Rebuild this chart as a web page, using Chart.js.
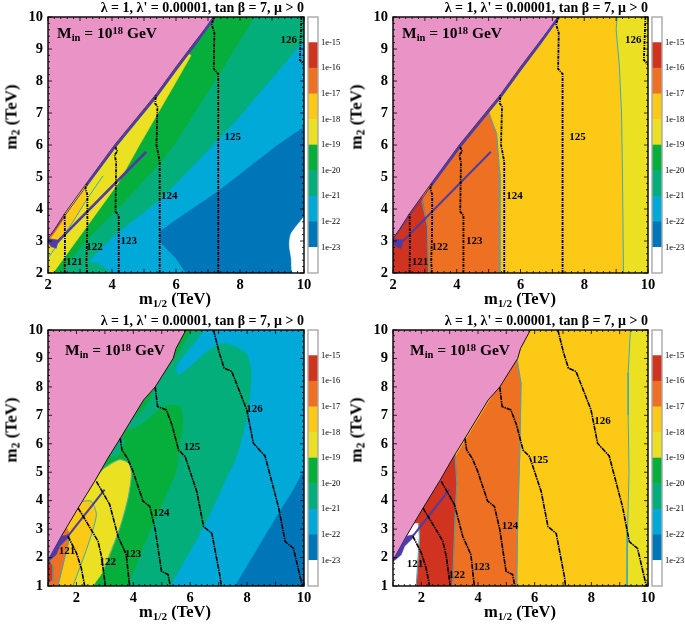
<!DOCTYPE html>
<html><head><meta charset="utf-8">
<script src="https://cdn.jsdelivr.net/npm/chart.js@4"></script>
<style>
html,body{margin:0;padding:0;background:#fff;width:685px;height:624px;overflow:hidden}
canvas{position:absolute;display:block;filter:blur(0.3px)}
.t{position:absolute;font-family:"Liberation Serif",serif;font-weight:bold;color:#000;white-space:nowrap;line-height:1}
.t sub,.t sup{font-size:68%;line-height:0}
.t sub{vertical-align:-0.28em}.t sup{vertical-align:0.42em}
.xl{font-size:16.5px}.yl{font-size:17px;transform:translate(-50%,-50%) rotate(-90deg)}
.mi{font-size:15.5px}
</style></head><body>
<script>
const titleText = "λ = 1, λ' = 0.00001, tan β = 7, μ > 0";
const xTicksHigh = [2,4,6,8,10];
const yTicksHigh = [2,3,4,5,6,7,8,9,10];
const yTicksLow = [1,2,3,4,5,6,7,8,9,10];
const barLevels = [-15,-16,-17,-18,-19,-20,-21,-22,-23];
const barBands = [[-24,-23],[-23,-22],[-22,-21],[-21,-20],[-20,-19],[-19,-18],[-18,-17],[-17,-16],[-16,-15],[-15,-14]];
const contourNames = ['121','122','123','124','125','126'];

const PINK='#E993C6',RED='#D0331F',ORANGE='#EE7023',AMBER='#FCC916',YELLOW='#EBE122',GREEN='#06AF3C',TEAL='#03AE7B',CYAN='#00A9D8',BLUE='#0076B9',WHITE='#FFFFFF',PURPLE='#4F3BA6',EDGE='#3FA9B5';
const barColors=[WHITE,BLUE,CYAN,TEAL,GREEN,YELLOW,AMBER,ORANGE,RED,WHITE];

// upper panels: m1/2 2..10, m2 2..10
const edgeA = [[2,3.08],[2.2,3.36],[2.52,3.86],[3.2,4.8],[4.08,6],[5.39,7.6],[6,8.44],[6.63,9.27],[7.2,10]];
const pinkA = edgeA.concat([[2,10]]);
const fullA = [[2,2],[10,2],[10,10],[2,10]];
const a1Blue = [[5.5,3.3],[6,3.66],[7.3,4.54],[9.18,6],[10,6.56],[10,2],[6.31,2],[6,2.46],[5.5,2.97]];
const a1White = [[10,3.76],[9.6,3.24],[9.54,2.88],[9.6,2.46],[9.65,2],[10,2]];
const a1Teal = [[2,2],[3.98,2],[3.56,2.3],[3.25,2.35],[4.08,3.19],[5.54,4.33],[6,4.8],[7.15,6],[7.88,6.77],[10,9.27],[10,10],[2,10]];
const a1Green = [[2,2],[2.36,2],[3.15,2.98],[4.19,4.02],[5.54,5.48],[6,6.1],[7.35,8.23],[8.45,10],[2,10]];
const a1Yellow = [[2,2],[2.16,2],[3.25,3.5],[4.19,4.8],[4.86,6],[6,7.97],[6.47,8.8],[6.3,8.9],[2,10]];
const a1Amber = [[2,2.67],[2.78,3.6],[3.15,4.23],[3.2,4.7],[2.52,3.84],[2.2,3.29],[2,3]];
const a1Orange = [[2,3],[2.2,3.25],[2.5,3.7],[2.52,3.86],[2.2,3.36],[2,3.08]];
const a1Edge = [[2,2.46],[2.78,3.6],[3.2,4.28],[3.72,5.04]];
const a2Yellow = [[9.03,10],[9,9.6],[9.1,8.5],[9.17,7],[9.2,5],[9.23,2],[10,2],[10,10]];
const a2Edge = [[9.03,10],[9,9.6],[9.1,8.5],[9.17,7],[9.2,5],[9.23,2]];
const a2Orange = [[4.99,7.1],[5.25,6.36],[5.35,5.11],[5.35,2],[2,2],[2,3.2],[4,6]];
const a2OrangeEdge = [[4.95,7.05],[5.25,6.36],[5.35,5.11],[5.35,2]];
const a2Red = [[2.9,4.4],[3.08,3.44],[3.11,2],[2,2],[2,3.2]];
const a2RedEdge = [[2.9,4.3],[3.08,3.44],[3.11,2]];
const aPurpleThin = [[2.1,3.18],[2.52,3.78],[3.2,4.72]];
const aPurpleEdge = [[3.2,4.74],[4.08,5.93],[5.39,7.53],[6,8.37],[6.63,9.2],[7.2,10]];
const aPurpleLine = [[2.2,2.88],[5.07,5.79]];
const aPurpleBlob = [[2,3.08],[2.31,3.03],[2.26,2.77],[2.1,2.82],[2,2.96]];
const aContour1 = [[2.52,2],[2.53,3],[2.52,3.86]];
const aContour2 = [[3.22,2],[3.2,2.35],[3.23,3.5],[3.23,4.44],[3.17,4.65],[3.23,4.8]];
const aContour3 = [[4.21,2],[4.21,3.8],[4.11,3.92],[4.13,5.48],[4.08,5.69],[4.17,5.8],[4.1,5.95]];
const aContour4 = [[5.49,2],[5.49,5.48],[5.39,6],[5.42,7.2],[5.35,7.3],[5.37,7.55]];
const aContour5 = [[7.32,2],[7.32,8.22],[7.18,8.38],[7.2,9.5],[7.12,9.76],[7.17,9.96]];
const aContour6 = [[9.92,10],[9.87,8.66],[10,8.5]];
const a1LabelX = [2.82,3.45,4.52,5.79,7.77,9.52];
const a1LabelY = [2.34,2.81,3.0,4.41,6.24,9.27];
const a2LabelX = [2.85,3.47,4.55,5.81,7.79,9.54];
const a2LabelY = [2.34,2.81,3.0,4.41,6.24,9.27];

// lower panels: m1/2 1..10, m2 1..10
const edgeB = [[1,1.87],[1.47,2.75],[2.06,3.74],[2.64,4.68],[3.11,5.5],[3.54,6.19],[4.36,7.54],[4.77,8.0],[5.4,9.0],[5.5,9.35],[5.85,10]];
const pinkB = edgeB.concat([[1,10]]);
const fullB = [[1,1],[10,1],[10,10],[1,10]];
const b3Blue = [[7.58,1],[8.34,2.27],[9.04,3.44],[9.63,4.38],[10,5.08],[10,1]];
const b3Teal = [[5.3,1],[6.59,3.32],[7.29,4.84],[7.61,5.5],[8.02,7.07],[8.14,8.53],[7.96,9.18],[7.2,9.53],[6.67,9.3],[5.62,8.42],[5.5,8.71],[6.32,9.77],[6.44,10],[1,10],[1,1]];
const b3Green = [[3.81,1],[4.52,2.8],[5.5,5.03],[5.62,6],[5.73,6.6],[5.68,7.25],[5.5,7.36],[5.06,7.3],[4.18,6.6],[3.6,6.4],[1,3],[1,1]];
const b3GreenUp = [[4.3,7.5],[5.4,9.0],[5.5,9.35],[5.85,10],[6.03,10],[5.5,9.05],[5.1,8.5],[4.75,7.95],[4.55,7.5],[4.07,6.9]];
const b3Sliver = [[3.2,5.6],[3.54,6.19],[3.72,6.1],[3.4,5.5]];
const b3Yellow = [[2.58,1],[2.93,1.52],[3.52,3.04],[3.81,4.09],[3.93,4.92],[3.85,5.3],[3.52,5.44],[2.99,5.15],[2.64,4.68],[1,1.9],[1,1]];
const b3Amber = [[1.88,1],[2.41,2.45],[2.7,3.5],[2.52,3.98],[2.23,3.98],[1.6,3.2],[1,1.9],[1,1]];
const b3Orange = [[1.35,1],[1.7,2.45],[1.76,2.8],[1.6,3.2],[1,1.9],[1,1]];
const b3Red = [[1,1.08],[1.15,1.2],[1.17,1.7],[1.05,1.92],[1,1.9]];
const b3Edge1 = [[1.88,1],[2.41,2.45],[2.7,3.5],[2.52,3.98],[2.23,3.98]];
const b3Edge2 = [[1.35,1],[1.7,2.45],[1.76,2.8]];
const b3Edge3 = [[1,1.08],[1.15,1.2],[1.17,1.7],[1.05,1.92]];
const b3Edge4 = [[2.93,1.52],[3.52,3.04],[3.81,4.09],[3.93,4.92],[3.85,5.3],[3.52,5.44],[2.99,5.15]];
const b4Yellow = [[9.38,10],[9.3,8.5],[9.3,7],[9.33,5],[9.28,3],[9.26,1],[10,1],[10,10]];
const b4YellowEdge = [[9.38,10],[9.3,8.5],[9.3,7],[9.33,5],[9.28,3],[9.26,1]];
const b4Orange = [[5.37,9.1],[5.52,8.13],[5.48,5.78],[5.4,3.2],[5.37,1],[1,1],[1,1.91]];
const b4OrangeEdge = [[5.37,8.95],[5.52,8.13],[5.48,5.78],[5.4,3.2],[5.37,1]];
const b4Red = [[3.19,5.7],[3.25,4.61],[3.19,3.44],[3.1,1],[1,1],[1,1.91]];
const b4RedEdge = [[3.19,5.6],[3.25,4.61],[3.19,3.44],[3.1,1]];
const b4White = [[1,1.87],[1.47,2.75],[1.73,3.2],[1.9,3.2],[1.93,2.73],[1.82,1],[1,1]];
const b4WhiteEdge = [[1.9,3.2],[1.93,2.73],[1.82,1]];
const bPurpleBlob = [[1,1.93],[1.47,2.75],[1.7,2.8],[1.7,2.69],[1.41,2.4],[1.29,2.1],[1.06,1.9]];
const bPurpleLine = [[1.7,2.75],[2.99,4.39]];
const bContour1 = [[1.7,2.75],[2,2.16],[2.17,1.63],[2.29,1]];
const bContour2 = [[2.06,3.74],[2.41,3.16],[2.76,2.57],[2.88,2.04],[3.02,1]];
const bContour3 = [[2.7,4.68],[3.17,3.86],[3.46,2.75],[3.75,2.1],[3.87,1]];
const bContour4 = [[3.54,6.19],[3.6,5.78],[3.79,5.5],[3.99,5.03],[4.34,3.98],[4.58,3.8],[4.77,2.98],[4.99,1.52],[5.22,1.4],[5.3,1]];
const bContour5 = [[4.77,7.99],[4.85,7.31],[5.16,7.19],[5.36,6.66],[5.59,5.78],[5.82,5.55],[6.23,4.32],[6.47,3.09],[6.76,2.85],[7.05,1.33],[7.09,1]];
const bContour6 = [[6.82,10],[7.02,9.2],[7.19,8.66],[7.46,8.54],[7.99,7.19],[8.22,6.02],[8.63,5.57],[9.1,3.79],[9.34,2.56],[9.63,2.32],[9.92,1.09],[9.96,1]];
const b3LabelX = [1.67,3.1,3.99,4.98,6.06,8.26];
const b3LabelY = [2.24,1.83,2.13,3.56,5.89,7.22];
const b4LabelX = [1.78,3.25,4.13,5.13,6.19,8.39];
const b4LabelY = [1.77,1.39,1.67,3.11,5.43,6.78];

const pts = a => a.map(([x,y]) => ({x,y}));
const area = (a,c,t) => ({type:'line',data:pts(a.concat([a[0]])),backgroundColor:c,borderColor:c,borderWidth:0.5,fill:'shape',pointRadius:0,tension:t||0});
const stroke = (a,c,w,dash,t) => ({type:'line',data:pts(a),borderColor:c,borderWidth:w,borderDash:dash||[],fill:false,pointRadius:0,tension:t||0});
const contoursUpper = l => l.map(a => stroke(a,'#000',1.8,[3,1,1,1]));
const contoursLower = l => l.map(a => stroke(a,'#000',1.6,[5,0.8,1.5,0.8]));
const SOFT=0.25;

const contA=[aContour1,aContour2,aContour3,aContour4,aContour5,aContour6];
const contB=[bContour1,bContour2,bContour3,bContour4,bContour5,bContour6];

const panels = [
 {left:0,top:0,w:304,xmin:2,ymin:2,xt:xTicksHigh,yt:yTicksHigh,lx:a1LabelX,ly:a1LabelY,layers:[
  area(fullA,CYAN),area(a1Blue,BLUE),area(a1White,WHITE,SOFT),area(a1Teal,TEAL),area(a1Green,GREEN),area(a1Yellow,YELLOW),area(a1Amber,AMBER),area(a1Orange,ORANGE),
  stroke(a1Edge,EDGE,1),area(pinkA,PINK),stroke(edgeA,'#000',0.7),
  stroke(aPurpleThin,PURPLE,1),stroke(aPurpleEdge,PURPLE,2.6),stroke(aPurpleLine,PURPLE,2.6),area(aPurpleBlob,PURPLE),...contoursUpper(contA)]},
 {left:345,top:0,w:303,xmin:2,ymin:2,xt:xTicksHigh,yt:yTicksHigh,lx:a2LabelX,ly:a2LabelY,layers:[
  area(fullA,AMBER),area(a2Yellow,YELLOW),stroke(a2Edge,EDGE,1),area(a2Orange,ORANGE),stroke(a2OrangeEdge,EDGE,1),area(a2Red,RED),stroke(a2RedEdge,EDGE,1),
  area(pinkA,PINK),stroke(edgeA,'#000',0.7),
  stroke(aPurpleThin,PURPLE,1),stroke(aPurpleEdge,PURPLE,2.6),stroke(aPurpleLine,PURPLE,2),area(aPurpleBlob,PURPLE),...contoursUpper(contA)]},
 {left:0,top:313,w:304,xmin:1,ymin:1,xt:xTicksHigh,yt:yTicksLow,lx:b3LabelX,ly:b3LabelY,layers:[
  area(fullB,CYAN),area(b3Blue,BLUE),area(b3Teal,TEAL,SOFT),area(b3Green,GREEN,SOFT),area(b3GreenUp,GREEN),area(b3Sliver,TEAL),area(b3Yellow,YELLOW,SOFT),area(b3Amber,AMBER,SOFT),area(b3Orange,ORANGE),area(b3Red,RED),
  stroke(b3Edge1,EDGE,1,[],SOFT),stroke(b3Edge2,EDGE,1),stroke(b3Edge3,EDGE,1),stroke(b3Edge4,EDGE,0.8,[],SOFT),area(pinkB,PINK),stroke(edgeB,'#000',0.9),
  area(bPurpleBlob,PURPLE),stroke(bPurpleLine,PURPLE,2),...contoursLower(contB)]},
 {left:345,top:313,w:303,xmin:1,ymin:1,xt:xTicksHigh,yt:yTicksLow,lx:b4LabelX,ly:b4LabelY,layers:[
  area(fullB,AMBER),area(b4Yellow,YELLOW),stroke(b4YellowEdge,EDGE,1),area(b4Orange,ORANGE),stroke(b4OrangeEdge,EDGE,1),area(b4Red,RED),stroke(b4RedEdge,EDGE,1),area(b4White,WHITE),stroke(b4WhiteEdge,EDGE,1),
  area(pinkB,PINK),stroke(edgeB,'#000',0.9),
  area(bPurpleBlob,PURPLE),stroke(bPurpleLine,PURPLE,2),...contoursLower(contB)]}
];

const frame = {id:'frame',afterDatasetsDraw(c){
  const {ctx,chartArea:a,scales:{x,y}}=c;const p=c.options.plugins.frame;
  ctx.save();
  ctx.font='bold 11px "Liberation Serif"';ctx.fillStyle='#000';ctx.textAlign='center';ctx.textBaseline='middle';
  p.names.forEach((n,i)=>ctx.fillText(n,x.getPixelForValue(p.lx[i]),y.getPixelForValue(p.ly[i])));
  ctx.strokeStyle='#000';ctx.lineWidth=0.8;ctx.beginPath();
  for(let v=p.xmin;v<=10.001;v+=0.2){const X=x.getPixelForValue(v);const m=Math.abs(v-Math.round(v))<1e-6;const L=m?4:2;
    ctx.moveTo(X,a.bottom);ctx.lineTo(X,a.bottom-L);ctx.moveTo(X,a.top);ctx.lineTo(X,a.top+L);}
  for(let v=p.ymin;v<=10.001;v+=0.2){const Y=y.getPixelForValue(v);const m=Math.abs(v-Math.round(v))<1e-6;const L=m?4:2;
    ctx.moveTo(a.left,Y);ctx.lineTo(a.left+L,Y);ctx.moveTo(a.right,Y);ctx.lineTo(a.right-L,Y);}
  ctx.stroke();
  ctx.lineWidth=1.4;ctx.strokeRect(a.left,a.top,a.right-a.left,a.bottom-a.top);
  ctx.restore();
}};

function addCanvas(l,t,w,h){const c=document.createElement('canvas');c.width=w;c.height=h;c.style.cssText=`left:${l}px;top:${t}px;width:${w}px;height:${h}px`;document.body.appendChild(c);return c;}
function addText(cls,l,t,html){const d=document.createElement('div');d.className='t '+cls;d.style.left=l+'px';d.style.top=t+'px';d.innerHTML=html;document.body.appendChild(d);}

const tickFont={family:'"Liberation Serif"',size:14.5,weight:'bold'};
panels.forEach((p,i)=>{
  const cv=addCanvas(p.left,p.top,320,310);
  new Chart(cv,{type:'line',plugins:[frame],data:{datasets:p.layers.slice().reverse()},options:{
    responsive:false,animation:false,events:[],
    layout:{padding:{left:0,right:320-p.w,top:0,bottom:0}},
    plugins:{legend:{display:false},tooltip:{enabled:false},
      title:{display:true,text:titleText,align:'end',fullSize:false,color:'#000',font:{family:'"Liberation Serif"',size:14,weight:'bold',lineHeight:1},padding:{top:1,bottom:2}},
      frame:{names:contourNames,lx:p.lx,ly:p.ly,xmin:p.xmin,ymin:p.ymin}},
    scales:{
      x:{type:'linear',min:p.xmin,max:10,grid:{display:false,drawTicks:false},border:{display:false},
        afterBuildTicks:s=>{s.ticks=p.xt.map(v=>({value:v}));},
        afterFit:s=>{s.height=37;},
        ticks:{font:tickFont,color:'#000',padding:4,maxRotation:0,autoSkip:false}},
      y:{type:'linear',min:p.ymin,max:10,grid:{display:false,drawTicks:false},border:{display:false},
        afterBuildTicks:s=>{s.ticks=p.yt.map(v=>({value:v}));},
        afterFit:s=>{s.width=48;},
        ticks:{font:tickFont,color:'#000',padding:5,autoSkip:false}}
    }}});
  const cb=addCanvas(p.left+(p.w===304?304:303),p.top,41,310);
  new Chart(cb,{type:'bar',plugins:[{id:'barBox',afterDatasetsDraw(c){const {ctx,chartArea:a}=c;ctx.save();ctx.strokeStyle='#a8a8a8';ctx.lineWidth=1.4;ctx.strokeRect(a.left,a.top,a.right-a.left,a.bottom-a.top);ctx.restore();}}],
    data:{labels:['level'],datasets:barBands.map((b,j)=>({data:[b],backgroundColor:barColors[j],borderWidth:0,barPercentage:1,categoryPercentage:1}))},
    options:{responsive:false,animation:false,events:[],
      layout:{padding:{left:4,right:0,top:17,bottom:37}},
      plugins:{legend:{display:false},tooltip:{enabled:false}},
      scales:{
        x:{display:false,stacked:false},
        y:{type:'linear',position:'right',min:-24,max:-14,grid:{display:false,drawTicks:false},border:{display:false},
          afterBuildTicks:s=>{s.ticks=barLevels.map(v=>({value:v}));},
          afterFit:s=>{s.width=27;},
          ticks:{font:{family:'"Liberation Serif"',size:8.5},color:'#000',padding:3,autoSkip:false,callback:v=>'1e'+v}}
      },
      datasets:{bar:{grouped:false}}
    }});
  addText('xl',p.left+139,p.top+291,'m<sub>1/2</sub> (TeV)');
  addText('yl',p.left+11,p.top+117,'m<sub>2</sub> (TeV)');
  if(i<2) addText('mi',p.left+57,p.top+25,'M<sub>in</sub> = 10<sup>18</sup> GeV');
  else addText('mi',p.left+65,p.top+29,'M<sub>in</sub> = 10<sup>18</sup> GeV');
});
</script>
</body></html>
